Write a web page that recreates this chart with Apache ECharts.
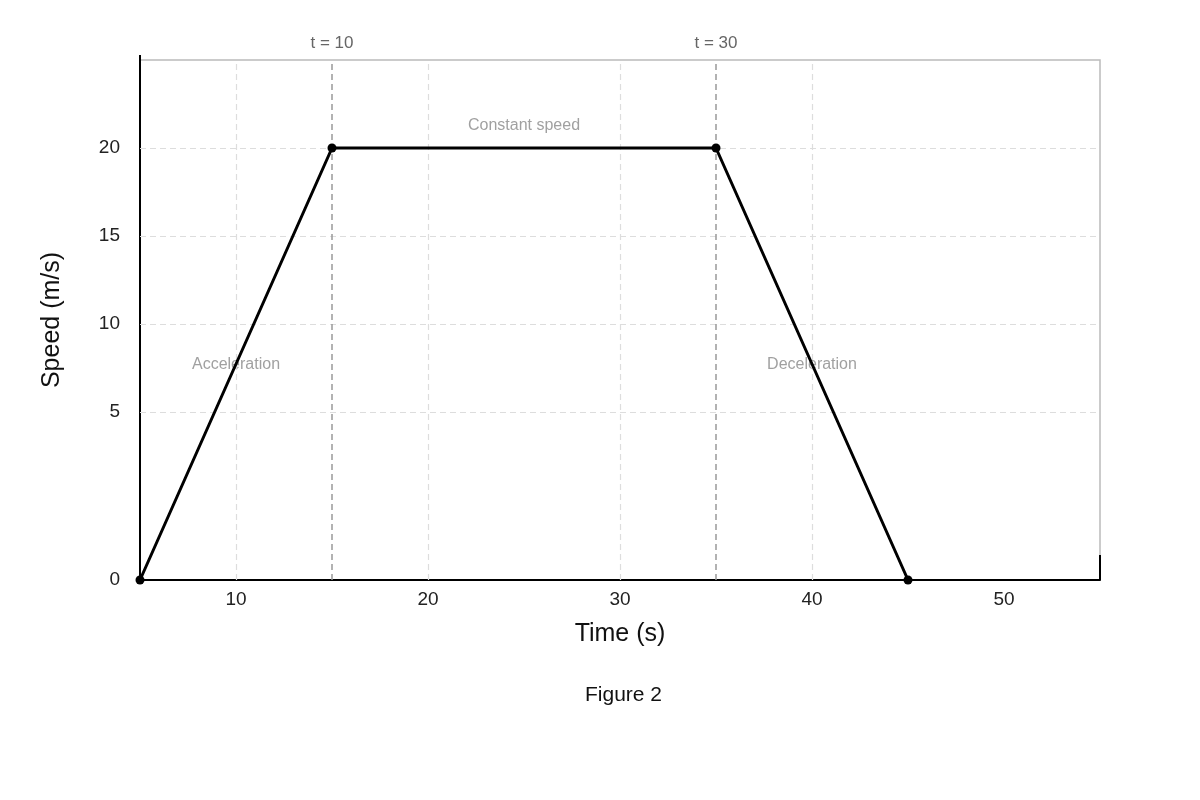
<!DOCTYPE html>
<html><head><meta charset="utf-8">
<script src="https://cdn.jsdelivr.net/npm/echarts@6/dist/echarts.min.js"></script>
<style>html,body{margin:0;padding:0;background:#fff}#c{width:1200px;height:800px}</style>
</head><body><div id="c"></div>
<script>
const times = [5, 15, 35, 45];
const speeds = [0, 20, 20, 0];
const xTicks = [10, 20, 30, 40, 50];
const xGrid = [10, 20, 30, 40];
const yTicks = [5, 10, 15, 20];
const phaseMarks = [15, 35];
const phaseLabels = ['t = 10', 't = 30'];
const notes = [[25, 21.3, 'Constant speed'], [10, 7.67, 'Acceleration'], [40, 7.67, 'Deceleration']];
// the reference's y axis puts 0 lower than a linear scale; it sits at the axis floor
const Y_FLOOR = -50 / 11;
const yMap = v => v === 0 ? Y_FLOOR : v;
const F = 'Liberation Sans, Arial, sans-serif';
const chart = echarts.init(document.getElementById('c'));
const gridLines = [
  ...xGrid.map(x => ({xAxis: x})),
  ...yTicks.map(y => ({yAxis: y}))
];
chart.setOption({
  animation: false,
  title: {text: 'Figure 2', left: 580, top: 680,
    textStyle: {fontFamily: F, fontSize: 21, fontWeight: 'normal', color: '#111'}},
  grid: {left: 140, right: 100, top: 60, bottom: 220, show: true, borderColor: '#bbb', borderWidth: 1.5},
  xAxis: {type: 'value', min: 5, max: 55, name: 'Time (s)', nameLocation: 'middle', nameGap: 42,
    nameTextStyle: {fontFamily: F, fontSize: 25, color: '#111'},
    axisLine: {onZero: false, lineStyle: {color: '#000', width: 2}}, axisTick: {show: false}, splitLine: {show: false},
    axisLabel: {customValues: xTicks, fontFamily: F, fontSize: 19, color: '#222', margin: 10}},
  yAxis: {type: 'value', min: Y_FLOOR, max: 25, name: 'Speed (m/s)', nameLocation: 'middle', nameGap: 75,
    nameTextStyle: {fontFamily: F, fontSize: 25, color: '#111'},
    axisLine: {show: true, onZero: false, lineStyle: {color: '#000', width: 2}}, axisTick: {show: false}, splitLine: {show: false},
    axisLabel: {customValues: [Y_FLOOR, ...yTicks], formatter: v => v < 0 ? '0' : String(Math.round(v)),
      fontFamily: F, fontSize: 19, color: '#222', margin: 20}},
  graphic: [
    {type: 'line', shape: {x1: 140, y1: 55, x2: 140, y2: 62}, style: {stroke: '#000', lineWidth: 2}},
    {type: 'line', shape: {x1: 1100, y1: 555, x2: 1100, y2: 580}, style: {stroke: '#000', lineWidth: 2}}
  ],
  series: [
    {type: 'line', data: [], markLine: {silent: true, symbol: 'none', label: {show: false},
      lineStyle: {color: '#ddd', type: [6, 4], width: 1.2}, data: gridLines}},
    {type: 'line', data: [], markLine: {silent: true, symbol: 'none',
      lineStyle: {color: '#999', type: [6, 4], width: 1.5},
      label: {show: true, position: 'end', distance: 8, fontFamily: F, fontSize: 17, color: '#666',
        formatter: p => phaseLabels[p.dataIndex]},
      data: phaseMarks.map(x => ({xAxis: x}))}},
    {type: 'line', data: times.map((t, i) => [t, yMap(speeds[i])]), symbol: 'circle', symbolSize: 9,
      itemStyle: {color: '#000'}, lineStyle: {color: '#000', width: 3}, z: 5},
    {type: 'scatter', symbolSize: 0, data: notes.map(n => [n[0], n[1]]),
      label: {show: true, position: 'inside', formatter: p => notes[p.dataIndex][2],
        fontFamily: F, fontSize: 16, color: '#888'}, z: 3}
  ]
});
</script></body></html>
